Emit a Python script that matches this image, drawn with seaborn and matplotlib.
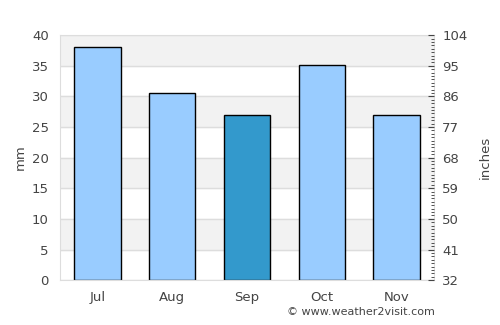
import matplotlib
matplotlib.use("Agg")
import matplotlib.pyplot as plt
import seaborn as sns
import pandas as pd
from matplotlib.ticker import MultipleLocator

# monthly rainfall (mm)
months = ["Jul", "Aug", "Sep", "Oct", "Nov"]
rain_mm = [38, 30.5, 27, 35.2, 27]
bar_colors = ["#99ccff", "#99ccff", "#3399cc", "#99ccff", "#99ccff"]
left_ticks = [0, 5, 10, 15, 20, 25, 30, 35, 40]
right_ticks = [32, 41, 50, 59, 68, 77, 86, 95, 104]

df = pd.DataFrame({"month": months, "mm": rain_mm})

sns.set_style("white")
plt.rcParams["font.family"] = ["DejaVu Sans"]
txt = "#444444"

fig = plt.figure(figsize=(5, 3.25), dpi=100)
ax = fig.add_axes([0.12, 0.138, 0.748, 0.754])

# alternating grey bands
for lo in range(5, 40, 10):
    ax.axhspan(lo, lo + 5, color="#f2f2f2", zorder=0)
for t in left_ticks:
    ax.axhline(t, color="#dddddd", lw=1, zorder=0.5)

sns.barplot(data=df, x="month", y="mm", hue="month", palette=bar_colors,
            saturation=1, width=0.62, edgecolor="black", linewidth=1,
            legend=False, ax=ax, zorder=2)

ax.set_xlim(-0.5, 4.5)
ax.set_ylim(0, 40)
ax.set_yticks(left_ticks)
ax.set_xlabel("")
ax.set_ylabel("mm", color=txt, fontsize=9.5)
ax.tick_params(axis="both", colors=txt, labelsize=9.5, length=0, pad=8)
for s in ax.spines.values():
    s.set_color("#dddddd")

ax2 = ax.twinx()
ax2.set_ylim(32, 104)
ax2.set_yticks(right_ticks)
ax2.yaxis.set_minor_locator(MultipleLocator(1))
ax2.tick_params(axis="y", which="major", colors=txt, labelsize=9.5, length=4, direction="in", pad=6)
ax2.tick_params(axis="y", which="minor", colors="#333333", length=2, direction="in")
ax2.set_ylabel("inches", color=txt, fontsize=9.5, labelpad=8)
for s in ax2.spines.values():
    s.set_visible(False)

fig.text(0.87, 0.025, "© www.weather2visit.com", ha="right", va="bottom",
         color=txt, fontsize=8)

fig.savefig("out.png", dpi=100)
